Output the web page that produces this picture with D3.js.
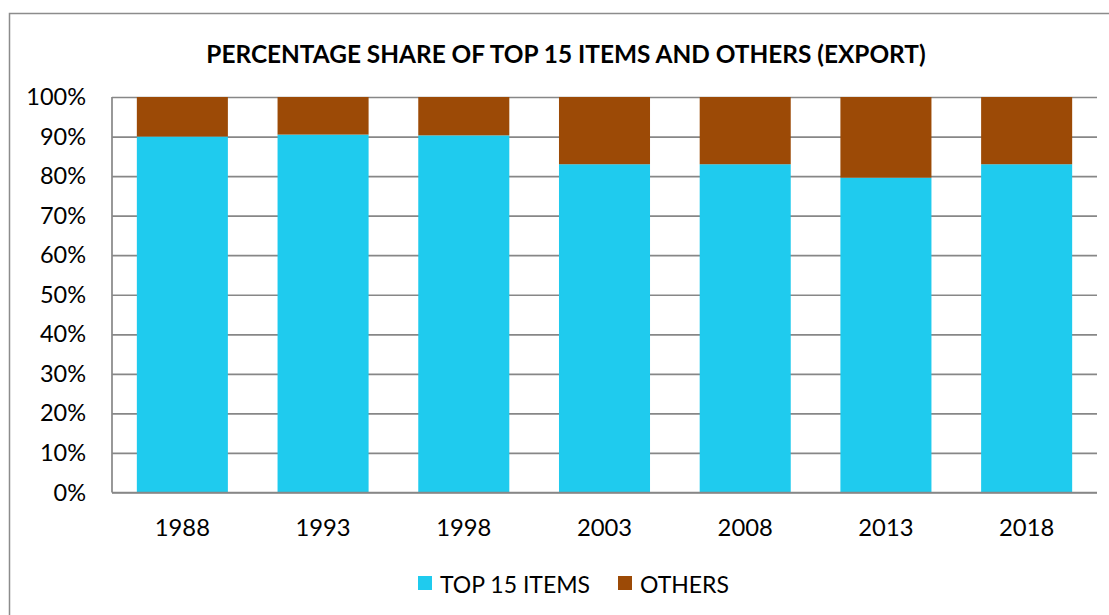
<!DOCTYPE html>
<html>
<head>
<meta charset="utf-8">
<script src="https://cdn.jsdelivr.net/npm/d3@7"></script>
<style>
  body { margin: 0; background: #fff; }
  svg { display: block; font-family: Lato, Calibri, Carlito, sans-serif; }
</style>
</head>
<body>
<svg id="chart" width="1109" height="615"></svg>
<script>
const years = ['1988', '1993', '1998', '2003', '2008', '2013', '2018']
const top15 = [90.0, 90.5, 90.3, 83.0, 83.0, 79.6, 83.0]
const others = [10.0, 9.5, 9.7, 17.0, 17.0, 20.4, 17.0]
const seriesNames = ['TOP 15 ITEMS', 'OTHERS']
const yTicks = [0, 10, 20, 30, 40, 50, 60, 70, 80, 90, 100]

const colors = ['#1fcbee', '#9c4a06']
const gridColor = '#878787'

const svg = d3.select('#chart')

// outer chart border (runs off the right and bottom edge)
svg.append('rect')
  .attr('x', 9.5).attr('y', 13.5)
  .attr('width', 1200).attr('height', 700)
  .attr('fill', 'none')
  .attr('stroke', '#8c8c8c')
  .attr('stroke-width', 1.5)

const plot = { left: 112, right: 1097, top: 97, bottom: 492.5 }

const x = d3.scaleBand()
  .domain(years)
  .range([plot.left, plot.right])
  .paddingInner(0.353)
  .paddingOuter(0.1765)

const y = d3.scaleLinear()
  .domain([0, 100])
  .range([plot.bottom, plot.top])

// title
svg.append('text')
  .attr('x', 566).attr('y', 63)
  .attr('text-anchor', 'middle')
  .attr('font-weight', 'bold')
  .attr('font-size', 24.4)
  .attr('fill', '#000')
  .text('PERCENTAGE SHARE OF TOP 15 ITEMS AND OTHERS (EXPORT)')

// gridlines + y labels
const yAxis = svg.append('g')
  .attr('transform', `translate(${plot.left},0)`)
  .call(d3.axisLeft(y)
    .tickValues(yTicks)
    .tickFormat(d => d + '%')
    .tickSizeInner(-(plot.right - plot.left))
    .tickSizeOuter(0)
    .tickPadding(26))
yAxis.select('.domain').remove()
yAxis.selectAll('line')
  .attr('stroke', gridColor)
  .attr('stroke-width', 1.7)
yAxis.selectAll('text')
  .attr('font-size', 23.5)
  .attr('fill', '#000')
  .attr('font-family', 'Lato, Calibri, sans-serif')

// stacked bars
const stackData = years.map((yr, i) => ({ year: yr, top: top15[i], oth: others[i] }))
const stack = d3.stack().keys(['top', 'oth'])(stackData)

svg.append('g')
  .selectAll('g')
  .data(stack)
  .join('g')
  .attr('fill', (d, i) => colors[i])
  .selectAll('rect')
  .data(d => d)
  .join('rect')
  .attr('x', d => x(d.data.year))
  .attr('width', x.bandwidth())
  .attr('y', d => y(d[1]))
  .attr('height', d => y(d[0]) - y(d[1]))

// left axis line and baseline
svg.append('line')
  .attr('x1', plot.left).attr('x2', plot.left)
  .attr('y1', y(100)).attr('y2', plot.bottom)
  .attr('stroke', gridColor).attr('stroke-width', 1.7)
svg.append('line')
  .attr('x1', plot.left).attr('x2', plot.right)
  .attr('y1', plot.bottom).attr('y2', plot.bottom)
  .attr('stroke', gridColor).attr('stroke-width', 1.7)

// x labels
svg.append('g')
  .selectAll('text')
  .data(years)
  .join('text')
  .attr('x', d => x(d) + x.bandwidth() / 2)
  .attr('y', 536)
  .attr('text-anchor', 'middle')
  .attr('font-size', 23.8)
  .attr('fill', '#000')
  .text(d => d)

// legend
const legendItems = [
  { name: seriesNames[0], color: colors[0], x: 418 },
  { name: seriesNames[1], color: colors[1], x: 618 }
]
const lg = svg.append('g')
  .selectAll('g')
  .data(legendItems)
  .join('g')
  .attr('transform', d => `translate(${d.x},576)`)
lg.append('rect')
  .attr('width', 14).attr('height', 14)
  .attr('fill', d => d.color)
lg.append('text')
  .attr('x', 22).attr('y', 17)
  .attr('font-size', 23)
  .attr('fill', '#000')
  .text(d => d.name)
</script>
</body>
</html>
